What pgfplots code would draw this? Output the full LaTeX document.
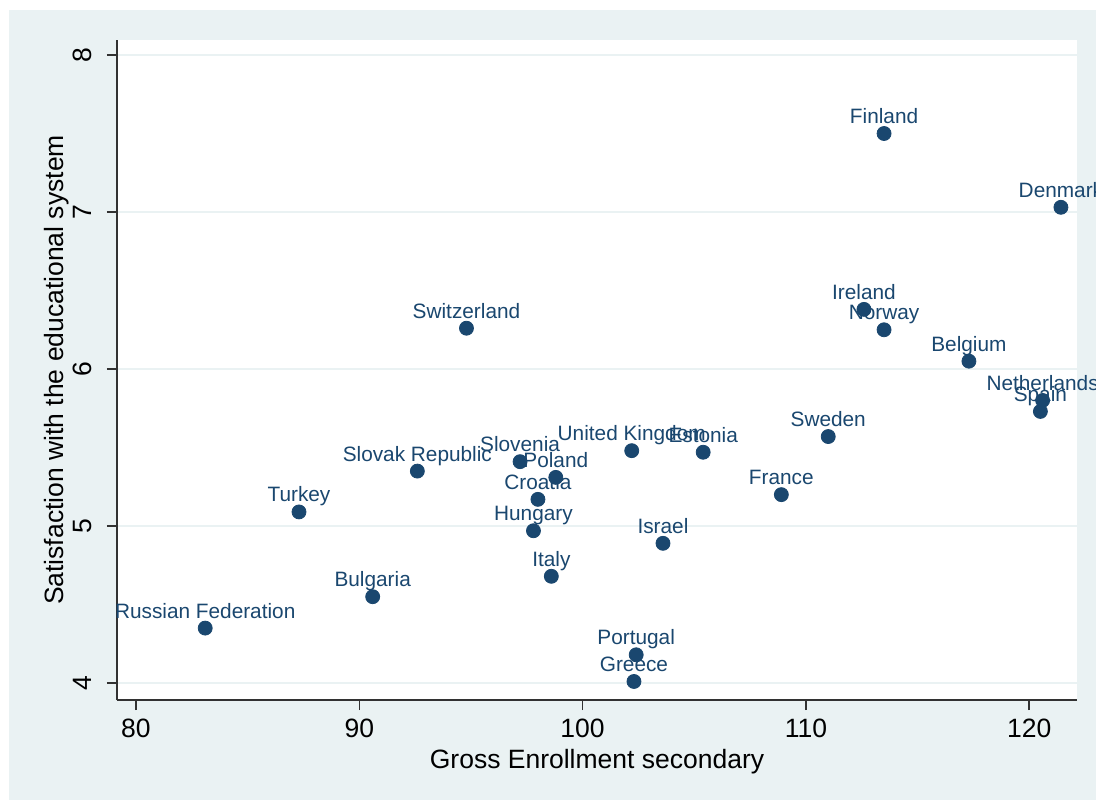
\documentclass[border=0pt]{standalone}
\usepackage{pgfplots}
\pgfplotsset{compat=1.18}
\usepackage{fontspec}
\setmainfont{Liberation Sans}
\definecolor{bgc}{RGB}{234,242,243}
\definecolor{navy}{RGB}{26,71,111}
\definecolor{axc}{RGB}{50,50,50}
\begin{document}
\begin{tikzpicture}[x=1pt,y=1pt]
\useasboundingbox (-58.5,-50) rectangle (489.5,350);
\fill[white] (-58.5,-50) rectangle (489.5,350);
\fill[bgc] (-54,-50) rectangle (489.5,345);
\begin{axis}[
  at={(0,0)}, anchor=south west,
  scale only axis, width=480pt, height=330pt,
  xmin=79.15, xmax=122.14, ymin=3.892, ymax=8.0955,
  axis x line*=bottom, axis y line*=left,
  axis line style={-, color=axc, line width=0.75pt},
  axis background/.style={fill=white},
  xtick={80,90,100,110,120}, ytick={4,5,6,7,8},
  tick align=outside, major tick length=5pt,
  tick style={color=axc, line width=0.75pt},
  ymajorgrids, major grid style={color=bgc, line width=1pt},
  /pgf/number format/assume math mode=true,
  ticklabel style={font=\fontsize{13.25}{15}\selectfont, text=black},
  xticklabel style={anchor=base, inner sep=0pt, yshift=-13.5pt},
  yticklabel style={rotate=90, anchor=base, inner sep=0pt},
  yticklabel shift=7.5pt,
  xlabel={Gross Enrollment secondary},
  ylabel={Satisfaction with the educational system},
  label style={font=\fontsize{13.25}{15}\selectfont, text=black},
  xlabel style={at={(axis description cs:0.5,0)}, anchor=base, yshift=-34pt, inner sep=0pt},
  ylabel style={at={(axis description cs:-0.0555,0.5)}, anchor=base, inner sep=0pt},
  clip=false,
  point meta=explicit symbolic,
  nodes near coords,
  nodes near coords style={anchor=base, inner sep=0pt, yshift=5pt, font=\fontsize{10.4}{12}\selectfont, text=navy},
]
\addplot[only marks, mark=*, mark size=3.5pt, color=navy, fill=navy] table[col sep=comma, x=x, y=y, meta=label] {
x,y,label
113.5,7.50,Finland
121.42,7.03,Denmark
112.6,6.38,Ireland
113.5,6.25,Norway
117.3,6.05,Belgium
120.6,5.80,Netherlands
120.5,5.73,Spain
111.0,5.57,Sweden
108.9,5.20,France
105.4,5.47,Estonia
102.2,5.48,United Kingdom
103.6,4.89,Israel
102.4,4.18,Portugal
102.3,4.01,Greece
98.6,4.68,Italy
97.8,4.97,Hungary
98.0,5.17,Croatia
98.8,5.31,Poland
97.2,5.41,Slovenia
92.6,5.35,Slovak Republic
94.8,6.26,Switzerland
87.3,5.09,Turkey
90.6,4.55,Bulgaria
83.1,4.35,Russian Federation
};
\end{axis}
\end{tikzpicture}
\end{document}
